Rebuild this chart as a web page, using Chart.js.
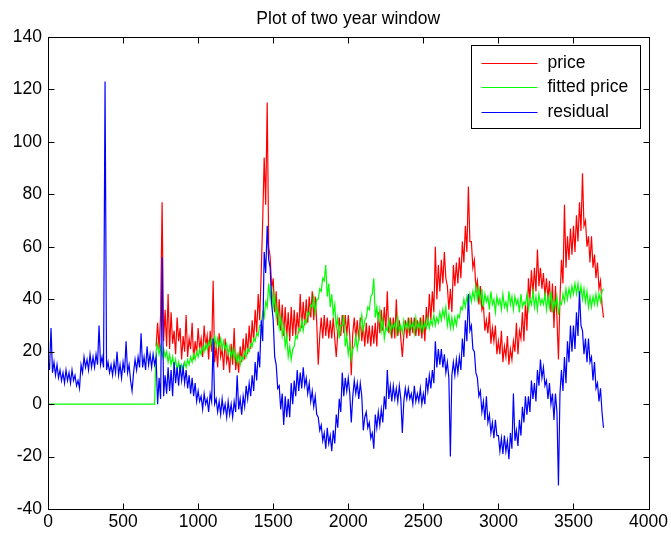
<!DOCTYPE html>
<html lang="en">
<head>
<meta charset="UTF-8">
<title>Plot of two year window</title>
<style>
  body { margin: 0; background: #ffffff; }
  #chart { display: block; }
</style>
<script src="https://cdn.jsdelivr.net/npm/chart.js"></script>
</head>
<body>
<canvas id="chart" width="671" height="537"></canvas>
<script>
  // one sample every 10 days, first sample at day 0
  const sampleStep = 10;

  // price only starts once the fit window is filled (day 720)
  const priceValues = [
    null, null, null, null, null, null, null, null, null, null,
    null, null, null, null, null, null, null, null, null, null,
    null, null, null, null, null, null, null, null, null, null,
    null, null, null, null, null, null, null, null, null, null,
    null, null, null, null, null, null, null, null, null, null,
    null, null, null, null, null, null, null, null, null, null,
    null, null, null, null, null, null, null, null, null, null,
    null, null, 22, 31, 21, 34, 77, 24, 36, 22,
    42, 21, 35, 23, 28, 19, 33, 24, 29, 17,
    26, 20, 34, 18, 25, 21, 31, 17, 24, 19,
    29, 21, 25, 18, 30, 22, 26, 17, 28, 20,
    47, 16, 22, 14, 27, 18, 21, 13, 25, 16,
    19, 12, 23, 15, 29, 13, 18, 12, 22, 16,
    25, 17, 27, 19, 30, 21, 32, 24, 36, 27,
    42, 32, 50, 70, 94, 76, 115, 60, 56, 44,
    48, 35, 43, 30, 40, 28, 38, 26, 37, 25,
    35, 24, 37, 26, 36, 26, 35, 27, 42, 29,
    39, 30, 40, 31, 41, 33, 43, 32, 41, 31,
    15, 26, 33, 25, 34, 26, 33, 25, 32, 25,
    33, 25, 18, 27, 33, 26, 34, 27, 34, 26,
    34, 26, 11, 27, 33, 25, 32, 24, 33, 24,
    30, 22, 31, 23, 30, 22, 30, 23, 31, 22,
    35, 27, 36, 28, 37, 28, 43, 27, 33, 25,
    33, 25, 40, 26, 32, 25, 18, 26, 32, 25,
    33, 26, 33, 27, 33, 26, 32, 26, 33, 25,
    34, 24, 37, 30, 42, 32, 43, 35, 60, 40,
    53, 43, 55, 46, 58, 48, 45, 36, 44, 35,
    53, 45, 54, 46, 56, 48, 62, 54, 68, 58,
    83, 62, 62, 52, 55, 44, 47, 38, 45, 36,
    38, 28, 32, 27, 35, 23, 29, 24, 30, 19,
    24, 19, 28, 16, 22, 18, 26, 15, 21, 17,
    24, 20, 31, 19, 28, 25, 35, 24, 39, 28,
    48, 40, 51, 42, 52, 43, 59, 45, 52, 44,
    50, 41, 48, 40, 47, 35, 46, 29, 45, 33,
    17, 40, 55, 46, 76, 52, 64, 55, 67, 57,
    68, 58, 72, 62, 77, 66, 88, 68, 70, 60,
    64, 54, 64, 52, 57, 48, 54, 44, 47, 38,
    33
  ];

  const fittedValues = [
    0, 0, 0, 0, 0, 0, 0, 0, 0, 0,
    0, 0, 0, 0, 0, 0, 0, 0, 0, 0,
    0, 0, 0, 0, 0, 0, 0, 0, 0, 0,
    0, 0, 0, 0, 0, 0, 0, 0, 0, 0,
    0, 0, 0, 0, 0, 0, 0, 0, 0, 0,
    0, 0, 0, 0, 0, 0, 0, 0, 0, 0,
    0, 0, 0, 0, 0, 0, 0, 0, 0, 0,
    0, 0, 20, 23, 19, 22, 18, 21, 18, 20,
    16, 19, 15, 18, 14, 17, 13, 16, 12, 15,
    13, 16, 14, 17, 15, 18, 16, 19, 17, 20,
    18, 21, 19, 22, 20, 23, 21, 24, 22, 25,
    23, 26, 22, 25, 22, 25, 21, 24, 21, 23,
    19, 22, 18, 21, 17, 20, 16, 19, 15, 18,
    17, 20, 18, 21, 20, 23, 22, 25, 24, 27,
    26, 30, 30, 35, 33, 39, 37, 46, 40, 45,
    37, 41, 33, 37, 29, 33, 26, 30, 22, 26,
    18, 22, 17, 21, 22, 26, 25, 29, 28, 32,
    28, 32, 31, 35, 34, 38, 37, 41, 35, 40,
    40, 44, 43, 48, 47, 53, 41, 46, 37, 42,
    34, 38, 29, 33, 25, 30, 30, 34, 22, 26,
    19, 23, 17, 21, 22, 26, 21, 25, 30, 34,
    28, 32, 33, 37, 36, 41, 42, 48, 33, 37,
    32, 36, 28, 32, 25, 29, 28, 32, 27, 31,
    29, 31, 27, 33, 28, 30, 27, 32, 29, 31,
    28, 32, 29, 31, 27, 33, 29, 31, 28, 32,
    28, 31, 29, 33, 29, 32, 30, 34, 30, 33,
    31, 35, 32, 36, 33, 37, 30, 34, 29, 33,
    29, 33, 30, 34, 33, 37, 36, 40, 37, 41,
    38, 42, 39, 43, 40, 45, 40, 44, 39, 44,
    37, 42, 39, 41, 36, 43, 38, 40, 35, 41,
    38, 40, 36, 42, 37, 39, 36, 43, 38, 41,
    36, 41, 38, 40, 35, 42, 37, 39, 38, 42,
    36, 40, 38, 43, 37, 41, 36, 42, 38, 40,
    38, 42, 36, 41, 37, 43, 35, 40, 37, 41,
    34, 39, 38, 42, 39, 44, 40, 44, 41, 45,
    42, 46, 42, 46, 41, 45, 40, 44, 39, 43,
    37, 41, 37, 41, 38, 42, 38, 42, 39, 43,
    44
  ];

  const residualValues = [
    17, 13, 29, 12, 16, 11, 15, 10, 13, 9,
    12, 8, 13, 9, 12, 8, 13, 9, 11, 7,
    9, 6, 15, 12, 18, 14, 17, 13, 19, 14,
    18, 14, 19, 15, 30, 15, 18, 14, 123, 13,
    16, 12, 15, 11, 16, 12, 20, 11, 15, 10,
    16, 12, 24, 12, 15, 9, 5, 12, 17, 13,
    18, 14, 27, 14, 18, 13, 22, 15, 19, 14,
    19, 15, 18, 0, 10, 2, 56, 3, 11, 4,
    14, 5, 13, 3, 16, 8, 14, 7, 15, 9,
    14, 8, 13, 6, 11, 4, 10, 3, 8, 1,
    5, 1, 3, -2, 4, 0, 2, -3, 4, 1,
    25, 0, 2, -3, 1, -4, 2, -3, 0, -5,
    1, -4, 0, -5, 1, -3, 11, -2, 2, -4,
    3, -1, 7, 2, 8, 3, 11, 5, 16, 9,
    20, 14, 32, 24, 58, 50, 68, 55, 52, 38,
    32, 18, 15, 6, 7, -2, 4, -8, 3, -5,
    2, -5, 8, 0, 9, 3, 13, 5, 12, 6,
    14, 7, 10, 4, 8, 1, 5, -1, 3, -4,
    -5, -10, -8, -14, -11, -17, -9, -15, -12, -18,
    -10, -15, -4, -9, 2, -3, 12, 3, 10, 5,
    10, 4, -7, 3, 9, 4, 8, 2, 8, 3,
    -10, -5, -3, -9, -7, -13, -11, -17, -4, -9,
    -3, -8, -2, -7, 3, -2, 13, 2, 7, 1,
    7, 2, 6, 1, 7, 2, -11, 1, 6, 2,
    6, 2, 4, 0, 7, 1, 4, 1, 6, 0,
    4, 0, 10, 5, 11, 6, 13, 8, 24, 14,
    21, 15, 21, 14, 19, 12, 16, 10, -20, 11,
    16, 11, 17, 12, 18, 13, 25, 18, 32, 24,
    42, 28, 30, 21, 20, 12, 10, 3, 5, -3,
    1, -6, 3, -7, -4, -11, -7, -13, -6, -12,
    -12, -18, -13, -19, -12, -18, -14, -21, -11, -17,
    4, -14, -10, -16, -6, -12, -1, -7, 3, -4,
    3, -3, 9, 2, 8, 1, 13, 7, 17, 10,
    14, 7, 9, 2, 8, 0, 4, -6, 4, -3,
    -31, 4, 13, 5, 18, 8, 24, 16, 30, 20,
    30, 21, 35, 26, 43, 30, 28, 19, 25, 16,
    25, 16, 18, 9, 16, 6, 8, 1, 6, -3,
    -9
  ];

  const xTickValues = [0, 500, 1000, 1500, 2000, 2500, 3000, 3500, 4000];
  const yTickValues = [-40, -20, 0, 20, 40, 60, 80, 100, 120, 140];

  const seriesNames = ['price', 'fitted price', 'residual'];
  const seriesColors = ['#ff0000', '#00ff00', '#0000ff'];

  const fontFamily = "'Liberation Sans', Arial, Helvetica, sans-serif";
  const fontSize = 17.5;
  const tickLen = 6;

  function toPoints(values) {
    return values.map((v, i) => ({ x: i * sampleStep, y: v }));
  }

  // box around the axes with inward ticks on all four sides
  const boxedAxes = {
    id: 'boxedAxes',
    afterDatasetsDraw(chart) {
      const { ctx, chartArea: a, scales } = chart;
      const left = Math.round(a.left) + 0.5;
      const right = Math.round(a.right) + 0.5;
      const top = Math.round(a.top) + 0.5;
      const bottom = Math.round(a.bottom) + 0.5;
      ctx.save();
      ctx.strokeStyle = '#000000';
      ctx.lineWidth = 1;
      ctx.beginPath();
      scales.x.ticks.forEach(t => {
        const px = Math.round(scales.x.getPixelForValue(t.value)) + 0.5;
        ctx.moveTo(px, bottom); ctx.lineTo(px, bottom - tickLen);
        ctx.moveTo(px, top); ctx.lineTo(px, top + tickLen);
      });
      scales.y.ticks.forEach(t => {
        const py = Math.round(scales.y.getPixelForValue(t.value)) + 0.5;
        ctx.moveTo(left, py); ctx.lineTo(left + tickLen, py);
        ctx.moveTo(right, py); ctx.lineTo(right - tickLen, py);
      });
      ctx.stroke();
      ctx.strokeRect(left, top, right - left, bottom - top);
      ctx.restore();
    }
  };

  // legend box in the top right corner of the axes
  const boxLegend = {
    id: 'boxLegend',
    afterDraw(chart) {
      const { ctx, chartArea: a } = chart;
      const w = 169, h = 83;
      const x0 = Math.round(a.right) - 9 - w + 0.5;
      const y0 = Math.round(a.top) + 8 + 0.5;
      ctx.save();
      ctx.fillStyle = '#ffffff';
      ctx.fillRect(x0, y0, w, h);
      ctx.strokeStyle = '#000000';
      ctx.lineWidth = 1;
      ctx.strokeRect(x0, y0, w, h);
      ctx.font = fontSize + 'px ' + fontFamily;
      ctx.textBaseline = 'middle';
      ctx.textAlign = 'left';
      seriesNames.forEach((name, i) => {
        const y = Math.round(y0 + 17 + i * 24.5) + 0.5;
        ctx.strokeStyle = seriesColors[i];
        ctx.beginPath();
        ctx.moveTo(x0 + 10, y);
        ctx.lineTo(x0 + 66, y);
        ctx.stroke();
        ctx.fillStyle = '#000000';
        ctx.fillText(name, x0 + 76, y);
      });
      ctx.restore();
    }
  };

  const datasets = [priceValues, fittedValues, residualValues].map((vals, i) => ({
    label: seriesNames[i],
    data: toPoints(vals),
    borderColor: seriesColors[i],
    backgroundColor: seriesColors[i],
    borderWidth: 1.2,
    pointRadius: 0,
    tension: 0,
    fill: false,
    order: 3 - i   // residual drawn last, on top
  }));

  new Chart(document.getElementById('chart'), {
    type: 'line',
    data: { datasets: datasets },
    options: {
      responsive: false,
      animation: false,
      devicePixelRatio: 1,
      layout: { padding: { left: 0, right: 21, top: 0, bottom: 0 } },
      plugins: {
        legend: { display: false },
        tooltip: { enabled: false },
        title: {
          display: true,
          fullSize: false,
          text: 'Plot of two year window',
          color: '#000000',
          font: { family: fontFamily, size: fontSize, weight: 'normal' },
          padding: { top: 9, bottom: 7 }
        }
      },
      scales: {
        x: {
          type: 'linear',
          min: 0,
          max: 4000,
          afterBuildTicks: s => { s.ticks = xTickValues.map(v => ({ value: v })); },
          afterFit: s => { s.height = 28; },
          grid: { display: false, drawTicks: false },
          border: { display: false },
          ticks: {
            color: '#000000',
            padding: 3,
            maxRotation: 0,
            autoSkip: false,
            callback: v => String(v),
            font: { family: fontFamily, size: fontSize }
          }
        },
        y: {
          type: 'linear',
          min: -40,
          max: 140,
          afterBuildTicks: s => { s.ticks = yTickValues.map(v => ({ value: v })); },
          afterFit: s => { s.width = 48; },
          grid: { display: false, drawTicks: false },
          border: { display: false },
          ticks: {
            color: '#000000',
            padding: 6,
            autoSkip: false,
            callback: v => String(v),
            font: { family: fontFamily, size: fontSize }
          }
        }
      }
    },
    plugins: [boxedAxes, boxLegend]
  });
</script>
</body>
</html>
